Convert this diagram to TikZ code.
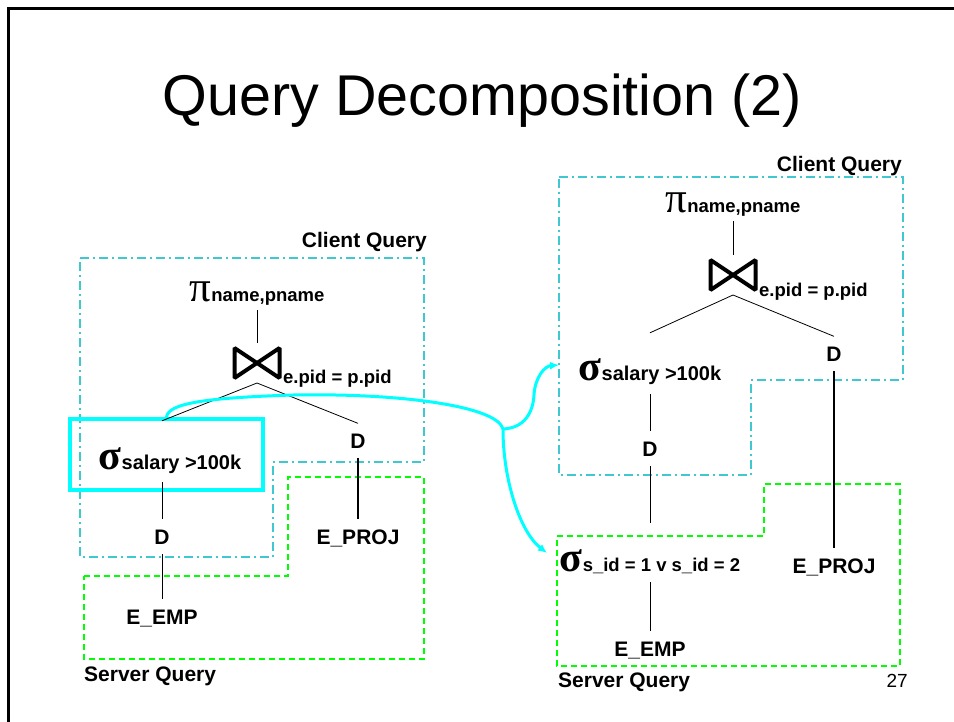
\documentclass[tikz,border=0pt]{standalone}
\usepackage{fontspec}
\setmainfont{Liberation Sans}
\newfontfamily\symfont{Liberation Serif}
\usetikzlibrary{arrows.meta}
\definecolor{clientcol}{RGB}{64,200,208}
\definecolor{servercol}{RGB}{0,255,0}
\definecolor{flowcol}{RGB}{0,255,255}
\newcommand{\opsub}[1]{{\fontsize{18.5}{20}\selectfont\bfseries #1}}
\newcommand{\projop}[1]{{\symfont\fontsize{43}{43}\selectfont π}\opsub{#1}}
\newcommand{\selop}[2][18.5]{\rule{0pt}{39pt}{\symfont\bfseries\fontsize{42}{42}\selectfont σ}{\fontsize{#1}{20}\selectfont\bfseries #2}}
\tikzset{lbl/.style={font=\fontsize{21}{21}\selectfont\bfseries, inner xsep=2pt, inner ysep=10pt, anchor=base}}
\tikzset{pinode/.style={inner xsep=0pt, inner ysep=4pt, anchor=base}}
\tikzset{signode/.style={inner xsep=0pt, inner ysep=9pt, anchor=base}}
\tikzset{joinbox/.style={minimum width=49pt, minimum height=34pt, inner sep=0pt, outer sep=3pt}}
\tikzset{joincond/.style={inner sep=0pt, anchor=base west}}
\tikzset{bowtie/.style={line width=4pt, line join=bevel}}
\tikzset{branch/.style={line width=0.8pt}}
\tikzset{thickbranch/.style={line width=2.6pt}}
\tikzset{clientbox/.style={draw=clientcol, line width=1.3pt, dash pattern=on 9pt off 4pt on 2pt off 4pt}}
\tikzset{serverbox/.style={draw=servercol, line width=1.3pt, dash pattern=on 6pt off 4pt}}
\tikzset{regionlbl/.style={font=\fontsize{21}{21}\selectfont\bfseries, inner sep=0pt}}
\tikzset{flow/.style={draw=flowcol, line width=3pt}}
\tikzset{hlbox/.style={draw=flowcol, line width=3.5pt, minimum width=193pt, minimum height=71pt, inner sep=0pt}}
\newcommand{\drawjoin}[1]{\draw[bowtie] ([shift={(-22.5,15)}]#1.center) -- ([shift={(-22.5,-15)}]#1.center)
  -- ([shift={(22.5,15)}]#1.center) -- ([shift={(22.5,-15)}]#1.center) -- cycle;}

\begin{document}
\begin{tikzpicture}[x=1pt,y=-1pt]
\useasboundingbox (0,0) rectangle (954,722);
\draw[line width=3pt] (8.5,722) -- (8.5,8.5) -- (954,8.5);
\node[anchor=base, font=\fontsize{57.5}{60}\selectfont, inner sep=0pt] (title) at (482.5,116) {Query Decomposition (2)};

% left: regions
\draw[clientbox] (80,258) -- (424,258) -- (424,462) -- (273,462) -- (273,557) -- (80,557) -- cycle;
\draw[serverbox] (84,576) -- (288,576) -- (288,477) -- (424,477) -- (424,659) -- (84,659) -- cycle;
\node[regionlbl, anchor=base east] (cq1) at (427,248) {Client Query};
\node[regionlbl, anchor=base west] (sq1) at (84,681) {Server Query};

% left: tree
\node[pinode] (pi1) at (257,302) {\projop{name,pname}};
\node[joinbox] (join1) at (257,363) {};
\node[joincond] (jc1) at (283,384) {\opsub{e.pid = p.pid}};
\node[hlbox] (hl) at (166.5,454.5) {};
\node[signode] (sel1) at (170,469) {\selop[20]{salary >100k}};
\node[lbl] (d1) at (162,544) {D};
\node[lbl] (emp1) at (162,624) {E\_EMP};
\node[lbl] (d2) at (358,448) {D};
\node[lbl] (proj1) at (358,544) {E\_PROJ};
\drawjoin{join1}
\draw[branch] (pi1.south) -- (join1.north);
\draw[branch] (join1.south) -- (sel1.north -| d1.north);
\draw[branch] (join1.south) -- (d2.north);
\draw[branch] (sel1.south -| d1.north) -- (d1.north);
\draw[branch] (d1.south) -- (emp1.north);
\draw[thickbranch] (d2.south) -- (proj1.north);

% right: regions
\draw[clientbox] (559,177) -- (903,177) -- (903,380) -- (751,380) -- (751,475) -- (559,475) -- cycle;
\draw[serverbox] (557,536) -- (764,536) -- (764,484) -- (900,484) -- (900,666) -- (557,666) -- cycle;
\node[regionlbl, anchor=base east] (cq2) at (902,172) {Client Query};
\node[regionlbl, anchor=base west] (sq2) at (558,687) {Server Query};
\node[inner sep=0pt, anchor=base east, font=\fontsize{19}{19}\selectfont] (pageno) at (908,687) {27};

% right: tree
\node[pinode] (pi2) at (733,213) {\projop{name,pname}};
\node[joinbox] (join2) at (733,275) {};
\node[joincond] (jc2) at (759,297) {\opsub{e.pid = p.pid}};
\node[signode] (sel2) at (650,381) {\selop[20]{salary >100k}};
\node[lbl] (d3) at (834,361) {D};
\node[lbl] (proj2) at (834,573) {E\_PROJ};
\node[lbl] (d4) at (650,456) {D};
\node[signode] (sel3) at (650,571) {\selop{s\_id = 1 v s\_id = 2}};
\node[lbl] (emp2) at (650,656) {E\_EMP};
\drawjoin{join2}
\draw[branch] (pi2.south) -- (join2.north);
\draw[branch] (join2.south) -- (sel2.north);
\draw[branch] (join2.south) -- (d3.north);
\draw[branch] (sel2.south) -- (d4.north);
\draw[branch] (d4.south) -- (sel3.north);
\draw[branch] (sel3.south) -- (emp2.north);
\draw[thickbranch] (d3.south) -- (proj2.north);

% shipped selection
\coordinate (split) at (503,429);
\coordinate (tgt1) at (559,365);
\coordinate (tgt2) at (547,553);
\draw[flow] (hl.north) .. controls (168,404) and (200,398) .. (293,395) .. controls (400,393) and (497,406) .. (split);
\draw[flow,-{Latex[length=9pt,width=8pt]}] (split) .. controls (525,428) and (533,412) .. (534,395) .. controls (535,377) and (545,366) .. (tgt1);
\draw[flow,-{Latex[length=9pt,width=8pt]}] (split) .. controls (503,480) and (520,532) .. (tgt2);
\end{tikzpicture}
\end{document}
